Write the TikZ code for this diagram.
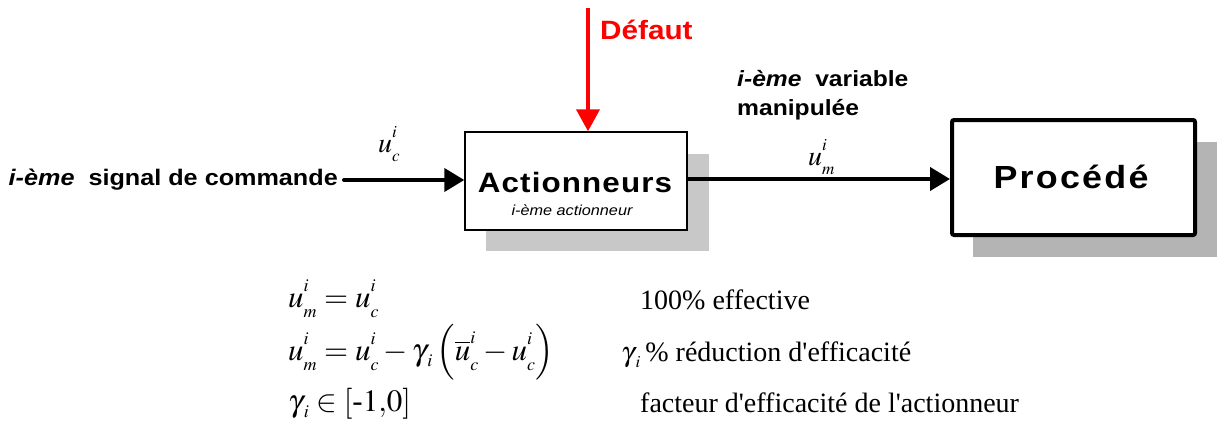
\documentclass[tikz,border=0pt]{standalone}
\usepackage{mathptmx}
\usepackage{fontspec}
\setmainfont{Liberation Serif}
\newfontfamily\arial[FakeStretch=1.12]{Liberation Sans}
\usetikzlibrary{positioning,arrows.meta}
\definecolor{shadelight}{HTML}{C8C8C8}
\definecolor{shadedark}{HTML}{B4B4B4}
\definecolor{defred}{HTML}{FF0000}
\DeclareMathSizes{31}{31}{18}{14}
\DeclareMathSizes{28}{28}{17}{13}
% u with stacked indices, gamma with its index
\newcommand{\uidx}[2][u]{#1^{\raisebox{4pt}{$\scriptstyle i$}}_{\raisebox{-3pt}{$\scriptstyle #2$}}}
\newcommand{\gami}{\gamma_{\mkern3mu\raisebox{-2pt}{$\scriptstyle i$}}}

\begin{document}
\begin{tikzpicture}[x=1pt, y=-1pt,
  blk/.style={draw, line width=1.4pt, fill=white, inner sep=0pt},
  shade/.style={fill=#1, inner sep=0pt},
  sig/.style={line width=4pt, -{Triangle[length=20pt,width=23pt]}},
  lbl/.style={inner sep=0pt, align=left, font=\arial\bfseries\fontsize{22}{29}\selectfont},
  eqm/.style={anchor=base west, inner sep=0pt, font=\fontsize{31}{34}\selectfont},
  eq/.style={anchor=base west, inner sep=0pt, font=\fontsize{28}{32}\selectfont},
]
\useasboundingbox (0,0) rectangle (1228,428);

% shadows, then the two blocks
\node[shade=shadelight, minimum width=223pt, minimum height=97pt] (actsh) at (597.5,202.5) {};
\node[shade=shadedark, minimum width=244pt, minimum height=115pt] (procsh) at (1095,199.5) {};
\node[blk, minimum width=222pt, minimum height=98pt] (act) at (576,181) {};
\node[blk, line width=4pt, rounded corners=2pt, minimum width=243pt, minimum height=115pt] (proc) at (1073.5,177.5) {};

\node[inner sep=0pt, anchor=base, font=\arial\bfseries\fontsize{28}{30}\selectfont\addfontfeature{LetterSpace=4}] (acttxt) at (575,192) {Actionneurs};
\node[inner sep=0pt, anchor=base, font=\arial\itshape\fontsize{14.5}{16}\selectfont] (actsub) at (572,215) {i-ème actionneur};
\node[inner sep=0pt, anchor=base, font=\arial\bfseries\fontsize{32}{34}\selectfont\addfontfeature{LetterSpace=7}] (proctxt) at (1071,188) {Procédé};

% input signal
\node[lbl, anchor=east, font=\arial\bfseries\fontsize{22.5}{29}\selectfont] (cmd) at (338,180) {{\itshape i-ème}\ \ signal de commande};
\draw[sig, line cap=round] ([xshift=6pt]cmd.east) -- (cmd.east -| act.west);
\node[inner sep=0pt, anchor=base west, font=\fontsize{28}{30}\selectfont] (uc) at (378,152) {$\uidx{c}$};

% fault
\coordinate (deftop) at (588,8);
\draw[line width=4pt, defred, -{Triangle[length=22pt,width=23pt]}] (deftop) -- (deftop |- act.north);
\node[lbl, text=defred, font=\arial\bfseries\fontsize{26.5}{30}\selectfont, anchor=west] (def) at (600,30) {Défaut};

% output to process
\draw[sig] (act.east |- 0,179) -- (proc.west |- 0,179);
\node[lbl, anchor=north west] (manip) at (737,70) {{\itshape i-ème}\ \ variable\\manipulée};
\node[inner sep=0pt, anchor=base west, font=\fontsize{28}{30}\selectfont] (um) at (808,165) {$\uidx{m}$};

% equations
\node[eqm] (eq1) at (288,307) {$\uidx{m} = \uidx{c}$};
\node[eqm] (eq2) at (288,360) {$\uidx{m} = \uidx{c} - \gami\left(\uidx[\overline{u}]{c} - \uidx{c}\right)$};
\node[eqm] (eq3) at (288,411) {$\gami \in [\mbox{-}1{,}0]$};
\node[eq] (tx1) at (640,309) {100\% effective};
\node[eq] (tx2) at (621,361) {$\gami$\,\% réduction d\textquotesingle efficacité};
\node[eq] (tx3) at (640,412) {facteur d\textquotesingle efficacité de l\textquotesingle actionneur};
\end{tikzpicture}
\end{document}
